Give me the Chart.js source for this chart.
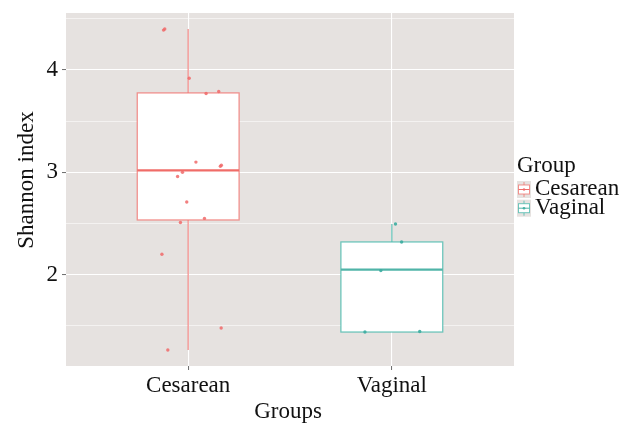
<!DOCTYPE html>
<html>
<head>
<meta charset="utf-8">
<title>Shannon index by delivery group</title>
<script src="https://cdn.jsdelivr.net/npm/chart.js@4.4.1/dist/chart.umd.min.js"></script>
<style>
  html, body { margin: 0; padding: 0; background: #ffffff; }
  #wrap { width: 636px; height: 423px; }
</style>
</head>
<body>
<div id="wrap"><canvas id="chart" width="636" height="423"></canvas></div>
<script>
// Groups on the x axis and labelled y ticks
const categories = ['Cesarean', 'Vaginal'];
const yTicks = [2, 3, 4];
const yMinorTicks = [1.5, 2.5, 3.5, 4.5];

// Shannon index per sample, with the horizontal jitter offset of each dot
const cesareanShannon = [4.39, 4.40, 3.92, 3.77, 3.79, 3.10, 3.06, 3.07, 3.00, 2.96, 2.71, 2.55, 2.51, 2.20, 1.48, 1.265];
const cesareanJitter  = [-0.121, -0.115, 0.005, 0.088, 0.150, 0.038, 0.158, 0.163, -0.028, -0.052, -0.007, 0.080, -0.038, -0.129, 0.162, -0.100];
const vaginalShannon  = [2.495, 2.32, 2.04, 1.44, 1.445];
const vaginalJitter   = [0.018, 0.048, -0.054, -0.132, 0.137];

// Boxplot summary per group: lower whisker, Q1, median, Q3, upper whisker
const whiskerLow  = [1.265, 1.44];
const quartile1   = [2.535, 1.44];
const medians     = [3.02, 2.05];
const quartile3   = [3.776, 2.32];
const whiskerHigh = [4.40, 2.495];

const FONT = 'Liberation Serif, Times New Roman, serif';
const PANEL_BG = '#E6E2E0';
const groupLine   = ['rgba(240,112,108,0.75)', 'rgba(72,184,172,0.78)'];
const groupMedian = ['rgb(240,108,104)', 'rgb(80,180,168)'];
const groupPoint  = ['rgba(240,104,104,0.85)', 'rgba(60,172,160,0.9)'];

const panelBackground = {
  id: 'panelBackground',
  beforeDraw(chart) {
    const { ctx, chartArea: a } = chart;
    ctx.save();
    ctx.fillStyle = PANEL_BG;
    ctx.fillRect(a.left, a.top, a.right - a.left, a.bottom - a.top);
    ctx.restore();
  }
};

// Box, whiskers and median for each group, placed through the chart scales
const boxplots = {
  id: 'boxplots',
  beforeDatasetsDraw(chart) {
    const { ctx } = chart;
    const xs = chart.scales.x, ys = chart.scales.y;
    categories.forEach((cat, i) => {
      const c = i + 1;
      const xl = xs.getPixelForValue(c - 0.25);
      const xr = xs.getPixelForValue(c + 0.25);
      const xc = xs.getPixelForValue(c);
      const yLo = ys.getPixelForValue(whiskerLow[i]);
      const yQ1 = ys.getPixelForValue(quartile1[i]);
      const yMd = ys.getPixelForValue(medians[i]);
      const yQ3 = ys.getPixelForValue(quartile3[i]);
      const yHi = ys.getPixelForValue(whiskerHigh[i]);
      ctx.save();
      ctx.strokeStyle = groupLine[i];
      ctx.lineWidth = 1.3;
      ctx.beginPath();
      ctx.moveTo(xc, yHi); ctx.lineTo(xc, yQ3);
      ctx.moveTo(xc, yQ1); ctx.lineTo(xc, yLo);
      ctx.stroke();
      ctx.fillStyle = '#ffffff';
      ctx.fillRect(xl, yQ3, xr - xl, yQ1 - yQ3);
      ctx.strokeRect(xl, yQ3, xr - xl, yQ1 - yQ3);
      ctx.strokeStyle = groupMedian[i];
      ctx.lineWidth = 2.2;
      ctx.beginPath();
      ctx.moveTo(xl, yMd); ctx.lineTo(xr, yMd);
      ctx.stroke();
      ctx.restore();
    });
  }
};

// Axis titles and the group legend with boxplot keys
const annotations = {
  id: 'annotations',
  afterDraw(chart) {
    const { ctx, chartArea: a } = chart;
    ctx.save();
    ctx.fillStyle = '#111111';
    ctx.font = '23px ' + FONT;
    ctx.textBaseline = 'alphabetic';

    ctx.textAlign = 'center';
    ctx.fillText('Groups', (a.left + a.right) / 2 - 2, 418);

    ctx.save();
    ctx.translate(33, 180);
    ctx.rotate(-Math.PI / 2);
    ctx.fillText('Shannon index', 0, 0);
    ctx.restore();

    ctx.textAlign = 'left';
    ctx.fillText('Group', 517, 172);
    categories.forEach((cat, i) => {
      const kx = 517, ky = 181 + i * 18.7, kw = 14, kh = 17;
      ctx.fillStyle = PANEL_BG;
      ctx.fillRect(kx, ky, kw, kh);
      const cx = kx + kw / 2, cy = ky + kh / 2;
      ctx.strokeStyle = groupLine[i];
      ctx.lineWidth = 1;
      ctx.beginPath();
      ctx.moveTo(cx, ky + 1); ctx.lineTo(cx, ky + 4);
      ctx.moveTo(cx, ky + 13); ctx.lineTo(cx, ky + kh - 1);
      ctx.stroke();
      ctx.fillStyle = '#ffffff';
      ctx.fillRect(kx + 1.5, ky + 4, kw - 3, 9);
      ctx.strokeRect(kx + 1.5, ky + 4, kw - 3, 9);
      ctx.strokeStyle = groupMedian[i];
      ctx.beginPath();
      ctx.moveTo(kx + 1.5, cy); ctx.lineTo(kx + kw - 1.5, cy);
      ctx.stroke();
      ctx.fillStyle = groupPoint[i];
      ctx.beginPath();
      ctx.arc(cx, cy, 1.3, 0, Math.PI * 2);
      ctx.fill();
      ctx.fillStyle = '#111111';
      ctx.fillText(cat, 535, ky + 14);
    });
    ctx.restore();
  }
};

const isMajorY = v => yTicks.includes(v);

new Chart(document.getElementById('chart'), {
  type: 'scatter',
  data: {
    datasets: [
      {
        label: categories[0],
        data: cesareanShannon.map((v, k) => ({ x: 1 + cesareanJitter[k], y: v })),
        backgroundColor: groupPoint[0],
        borderWidth: 0,
        pointRadius: 1.7
      },
      {
        label: categories[1],
        data: vaginalShannon.map((v, k) => ({ x: 2 + vaginalJitter[k], y: v })),
        backgroundColor: groupPoint[1],
        borderWidth: 0,
        pointRadius: 1.7
      }
    ]
  },
  options: {
    responsive: false,
    animation: false,
    devicePixelRatio: 1,
    layout: { padding: { top: 13, right: 122, left: 0, bottom: 0 } },
    plugins: {
      legend: { display: false },
      tooltip: { enabled: false }
    },
    scales: {
      x: {
        type: 'linear',
        min: 0.4,
        max: 2.6,
        afterBuildTicks(s) { s.ticks = categories.map((c, i) => ({ value: i + 1 })); },
        afterFit(s) { s.height = 57; s.paddingLeft = 0; s.paddingRight = 0; },
        border: { display: false },
        grid: { color: '#ffffff', lineWidth: 1.1, tickColor: '#6a6a6a', tickLength: 4, tickWidth: 1 },
        ticks: {
          callback: v => categories[v - 1] ?? '',
          font: { family: FONT, size: 23 },
          color: '#111111',
          padding: 2,
          maxRotation: 0,
          autoSkip: false
        }
      },
      y: {
        type: 'linear',
        min: 1.108,
        max: 4.557,
        afterBuildTicks(s) {
          s.ticks = [...yMinorTicks, ...yTicks].sort((p, q) => p - q).map(v => ({ value: v }));
        },
        afterFit(s) { s.width = 66; s.paddingTop = 0; s.paddingBottom = 0; },
        border: { display: false },
        grid: {
          color: '#ffffff',
          lineWidth: c => (c.tick && isMajorY(c.tick.value)) ? 1.1 : 0.55,
          tickColor: c => (c.tick && isMajorY(c.tick.value)) ? '#6a6a6a' : 'rgba(0,0,0,0)',
          tickLength: 4,
          tickWidth: 1
        },
        ticks: {
          callback: v => isMajorY(v) ? String(v) : '',
          font: { family: FONT, size: 23 },
          color: '#111111',
          padding: 4,
          autoSkip: false
        }
      }
    }
  },
  plugins: [panelBackground, boxplots, annotations]
});
</script>
</body>
</html>
